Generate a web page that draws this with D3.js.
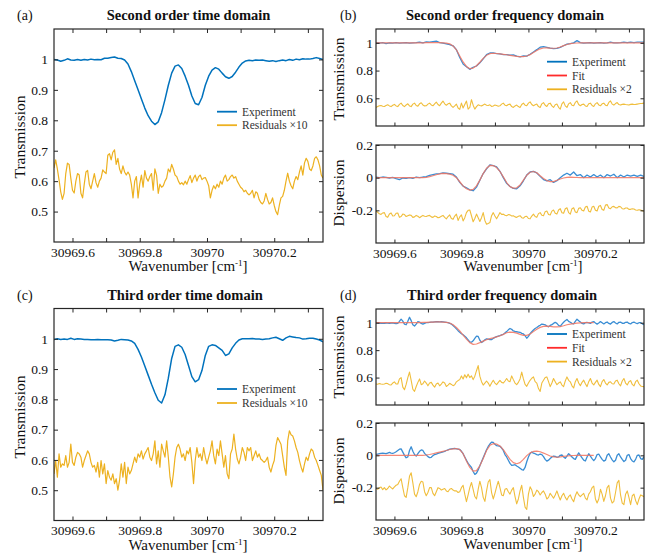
<!DOCTYPE html>
<html>
<head>
<meta charset="utf-8">
<script src="https://cdn.jsdelivr.net/npm/d3@7"></script>
<style>
body { margin: 0; background: #fff; }
text { font-family: "Liberation Serif", "Times New Roman", serif; }
</style>
</head>
<body>
<svg id="fig" width="658" height="559"></svg>
<script>
// wavenumber grid: every series starts at X0, sampled at a fixed step
const X0 = 30969.545, X1 = 30970.345;
const STEP = 0.01, FINE = 0.005;

const xTicks = [30969.6, 30969.7, 30969.8, 30969.9, 30970, 30970.1, 30970.2, 30970.3];
const xTickLabels = [30969.6, 30969.8, 30970, 30970.2];
const timeYTicks = [0.5, 0.6, 0.7, 0.8, 0.9, 1];
const transYTicks = [0.6, 0.8, 1];
const dispYTicks = [-0.2, 0, 0.2];

// (a) second order, time domain
const aExp = [
1.000,0.998,0.994,0.997,1.002,0.998,0.997,1.000,0.997,1.000,
0.998,1.001,0.999,1.000,0.999,1.004,1.004,1.006,1.008,1.004,
1.003,0.998,0.985,0.960,0.930,0.900,0.870,0.840,0.815,0.797,
0.786,0.795,0.825,0.868,0.915,0.955,0.978,0.982,0.970,0.945,
0.915,0.880,0.855,0.851,0.875,0.915,0.945,0.965,0.973,0.968,
0.955,0.943,0.938,0.944,0.958,0.975,0.988,0.995,0.997,0.996,
0.998,0.997,0.998,0.996,0.994,0.996,0.993,0.996,0.998,0.996,
1.000,0.997,1.001,0.999,1.002,1.001,1.001,1.003,1.006,1.003,
1.000];
const aRes = [
0.643,0.670,0.640,0.604,0.565,0.540,0.560,0.625,0.659,0.655,
0.610,0.570,0.561,0.600,0.625,0.620,0.560,0.545,0.590,0.630,
0.635,0.590,0.575,0.600,0.625,0.595,0.580,0.600,0.610,0.637,
0.630,0.625,0.685,0.690,0.670,0.695,0.703,0.655,0.675,0.640,
0.625,0.650,0.630,0.620,0.630,0.620,0.590,0.545,0.600,0.615,
0.545,0.590,0.620,0.580,0.635,0.610,0.600,0.615,0.625,0.570,
0.640,0.620,0.560,0.590,0.580,0.585,0.600,0.610,0.640,0.630,
0.655,0.640,0.620,0.615,0.600,0.590,0.595,0.588,0.600,0.590,
0.605,0.618,0.595,0.610,0.620,0.600,0.615,0.620,0.605,0.610,
0.612,0.600,0.585,0.545,0.570,0.585,0.575,0.590,0.580,0.600,
0.590,0.610,0.620,0.600,0.605,0.615,0.620,0.610,0.615,0.600,
0.590,0.580,0.575,0.565,0.570,0.560,0.555,0.560,0.570,0.545,
0.565,0.560,0.540,0.530,0.525,0.535,0.560,0.540,0.525,0.530,
0.545,0.520,0.500,0.490,0.520,0.545,0.550,0.570,0.600,0.626,
0.600,0.585,0.575,0.600,0.615,0.605,0.630,0.650,0.620,0.660,
0.675,0.665,0.640,0.635,0.650,0.675,0.680,0.670,0.650,0.620,
0.610];

// (c) third order, time domain
const cExp = [
0.998,1.000,0.998,0.999,0.998,1.002,0.998,1.000,0.999,0.998,
0.998,0.997,0.997,0.998,0.997,0.997,0.997,0.996,0.993,0.995,
0.998,0.997,0.996,0.993,0.985,0.965,0.940,0.910,0.880,0.850,
0.822,0.797,0.788,0.815,0.870,0.935,0.975,0.980,0.972,0.948,
0.912,0.875,0.858,0.865,0.895,0.945,0.975,0.980,0.978,0.970,
0.962,0.945,0.950,0.970,0.985,0.996,1.000,1.000,1.000,1.001,
0.999,0.999,0.998,0.999,1.000,1.003,1.005,1.000,0.995,1.003,
1.008,1.006,1.004,1.003,0.999,1.000,1.002,1.002,0.999,0.996,
0.990];
const cRes = [
0.554,0.598,0.543,0.620,0.576,0.587,0.582,0.614,0.576,0.592,
0.652,0.592,0.582,0.609,0.625,0.620,0.609,0.576,0.598,0.614,
0.630,0.620,0.592,0.576,0.582,0.560,0.592,0.543,0.598,0.554,
0.587,0.522,0.565,0.543,0.533,0.554,0.522,0.538,0.500,0.533,
0.587,0.543,0.592,0.522,0.576,0.554,0.565,0.587,0.609,0.592,
0.620,0.609,0.630,0.603,0.620,0.630,0.641,0.609,0.598,0.620,
0.663,0.587,0.630,0.576,0.652,0.630,0.609,0.663,0.609,0.543,
0.511,0.554,0.609,0.641,0.652,0.636,0.609,0.620,0.598,0.630,
0.620,0.641,0.592,0.522,0.598,0.641,0.609,0.620,0.598,0.641,
0.609,0.587,0.609,0.630,0.663,0.614,0.587,0.636,0.614,0.663,
0.620,0.576,0.614,0.554,0.538,0.620,0.636,0.685,0.636,0.603,
0.587,0.609,0.641,0.625,0.598,0.641,0.630,0.641,0.598,0.614,
0.630,0.609,0.620,0.603,0.598,0.592,0.598,0.609,0.576,0.560,
0.582,0.598,0.647,0.674,0.663,0.652,0.614,0.576,0.549,0.663,
0.696,0.683,0.679,0.663,0.641,0.625,0.598,0.576,0.560,0.587,
0.609,0.598,0.620,0.636,0.630,0.609,0.598,0.582,0.565,0.549,
0.500];

// (b) second order, frequency domain
const bTransExp = [
1.000,0.998,1.002,0.995,1.000,0.998,1.002,0.998,1.000,1.002,
0.998,1.000,1.002,1.005,1.000,1.007,1.005,1.009,1.012,1.002,
0.998,0.993,0.988,0.979,0.951,0.894,0.847,0.828,0.809,0.824,
0.833,0.856,0.885,0.915,0.927,0.927,0.922,0.920,0.915,0.915,
0.911,0.913,0.904,0.899,0.906,0.904,0.918,0.934,0.951,0.969,
0.972,0.967,0.962,0.958,0.960,0.967,0.979,0.991,0.995,1.000,
1.016,1.002,0.998,1.000,1.002,0.998,1.000,1.002,0.998,1.000,
1.005,1.000,1.000,1.002,1.005,1.002,1.005,1.002,1.005,1.005,
1.005];
const bTransFit = [
1.000,1.000,1.000,1.000,1.000,1.000,1.000,1.000,1.000,1.000,
1.000,1.000,1.000,1.000,1.000,1.001,1.001,1.002,1.002,1.001,
1.000,0.998,0.993,0.978,0.950,0.905,0.862,0.830,0.814,0.818,
0.835,0.860,0.888,0.910,0.922,0.925,0.923,0.920,0.917,0.914,
0.910,0.906,0.902,0.900,0.901,0.905,0.915,0.930,0.945,0.957,
0.963,0.964,0.962,0.961,0.963,0.970,0.980,0.988,0.994,0.997,
0.999,1.000,1.000,1.000,1.000,1.000,1.000,1.000,1.000,1.000,
1.000,1.000,1.000,1.000,1.000,1.000,1.000,1.000,1.000,1.000,
1.000];
const bTransRes = [
0.534,0.540,0.546,0.548,0.543,0.541,0.548,0.553,0.545,0.540,
0.550,0.556,0.545,0.540,0.556,0.565,0.548,0.540,0.552,0.560,
0.545,0.540,0.558,0.565,0.548,0.543,0.560,0.568,0.552,0.545,
0.546,0.558,0.565,0.552,0.546,0.560,0.572,0.555,0.546,0.565,
0.580,0.560,0.550,0.560,0.565,0.545,0.534,0.545,0.558,0.530,
0.520,0.565,0.530,0.555,0.580,0.522,0.534,0.590,0.550,0.522,
0.540,0.553,0.548,0.545,0.552,0.558,0.550,0.548,0.553,0.541,
0.545,0.551,0.548,0.543,0.546,0.558,0.565,0.550,0.546,0.555,
0.558,0.540,0.534,0.545,0.551,0.540,0.534,0.555,0.565,0.550,
0.546,0.565,0.574,0.555,0.546,0.553,0.558,0.540,0.534,0.560,
0.569,0.550,0.541,0.560,0.565,0.545,0.534,0.553,0.558,0.535,
0.522,0.560,0.574,0.545,0.534,0.560,0.569,0.550,0.546,0.570,
0.581,0.555,0.546,0.555,0.558,0.545,0.541,0.560,0.565,0.548,
0.541,0.560,0.569,0.552,0.546,0.560,0.565,0.550,0.546,0.570,
0.581,0.558,0.551,0.562,0.569,0.555,0.551,0.556,0.558,0.555,
0.553,0.551,0.556,0.558,0.555,0.556,0.558,0.560,0.562,0.563,
0.565];
const bDispExp = [
0.004,0.000,0.004,0.002,-0.002,0.002,-0.006,-0.012,-0.002,-0.004,
0.000,-0.004,0.004,0.000,0.004,0.006,0.014,0.019,0.023,0.025,
0.029,0.027,0.025,0.021,0.004,-0.029,-0.052,-0.062,-0.074,-0.080,
-0.058,-0.016,0.025,0.054,0.078,0.074,0.066,0.039,0.000,-0.035,
-0.054,-0.066,-0.068,-0.050,-0.019,0.016,0.035,0.039,0.029,0.008,
-0.012,-0.019,-0.012,-0.029,-0.019,0.000,0.016,0.027,0.016,0.035,
0.012,0.019,0.000,0.016,0.004,0.019,0.004,0.016,0.000,0.019,
0.010,0.021,0.000,0.016,0.004,0.016,0.010,0.016,0.008,0.016,
0.008];
const bDispFit = [
0,0,0,0,0,0,0,0,0,0,
0,0,0,0,0,0.002,0.006,0.012,0.018,0.023,
0.026,0.025,0.022,0.015,0.000,-0.025,-0.050,-0.068,-0.076,-0.072,
-0.050,-0.015,0.025,0.058,0.075,0.074,0.062,0.038,0.005,-0.030,
-0.055,-0.064,-0.062,-0.045,-0.015,0.015,0.033,0.038,0.030,0.012,
-0.005,-0.018,-0.024,-0.024,-0.016,-0.008,-0.002,0.002,0.003,0.002,
0.001,0,0,0,0,0,0,0,0,0,
0,0,0,0,0,0,0,0,0,0,
0];
const bDispRes = [
-0.204,-0.212,-0.221,-0.225,-0.216,-0.214,-0.238,-0.243,-0.222,-0.216,
-0.235,-0.233,-0.218,-0.216,-0.243,-0.238,-0.223,-0.226,-0.238,-0.233,
-0.228,-0.231,-0.243,-0.240,-0.231,-0.236,-0.245,-0.238,-0.231,-0.236,
-0.238,-0.233,-0.231,-0.240,-0.243,-0.235,-0.238,-0.245,-0.243,-0.236,
-0.231,-0.243,-0.252,-0.238,-0.228,-0.250,-0.255,-0.235,-0.223,-0.262,
-0.240,-0.228,-0.265,-0.245,-0.214,-0.200,-0.198,-0.233,-0.270,-0.250,
-0.223,-0.245,-0.268,-0.245,-0.214,-0.262,-0.285,-0.280,-0.275,-0.233,
-0.214,-0.235,-0.252,-0.233,-0.214,-0.225,-0.223,-0.230,-0.233,-0.226,
-0.228,-0.235,-0.233,-0.240,-0.243,-0.236,-0.233,-0.245,-0.248,-0.238,
-0.236,-0.250,-0.252,-0.235,-0.223,-0.238,-0.243,-0.220,-0.214,-0.230,
-0.233,-0.208,-0.204,-0.225,-0.228,-0.205,-0.198,-0.218,-0.223,-0.198,
-0.190,-0.215,-0.218,-0.190,-0.184,-0.214,-0.223,-0.190,-0.184,-0.210,
-0.214,-0.188,-0.184,-0.200,-0.204,-0.180,-0.175,-0.205,-0.210,-0.180,
-0.175,-0.200,-0.204,-0.175,-0.170,-0.195,-0.200,-0.168,-0.165,-0.185,
-0.190,-0.178,-0.176,-0.184,-0.185,-0.176,-0.178,-0.190,-0.192,-0.186,
-0.186,-0.194,-0.194,-0.190,-0.192,-0.198,-0.200,-0.196,-0.198,-0.202,
-0.206];

// (d) third order, frequency domain (fit stops at 30970.195)
const dTransExp = [
1.000,0.999,0.998,0.996,0.995,0.996,0.998,0.997,0.996,0.998,
0.999,0.996,0.993,0.995,1.010,1.026,1.012,0.990,0.985,1.010,
1.040,1.015,0.985,0.976,0.990,1.008,1.005,0.995,0.990,0.995,
1.000,1.000,1.002,1.005,1.004,1.006,1.008,1.007,1.006,1.008,
1.006,1.004,1.002,1.000,0.996,0.990,0.980,0.968,0.955,0.942,
0.930,0.920,0.912,0.902,0.890,0.875,0.860,0.858,0.868,0.885,
0.902,0.900,0.872,0.856,0.864,0.876,0.882,0.880,0.877,0.876,
0.886,0.893,0.899,0.903,0.906,0.911,0.915,0.926,0.935,0.948,
0.958,0.952,0.940,0.936,0.934,0.932,0.930,0.922,0.918,0.905,
0.887,0.900,0.920,0.934,0.947,0.958,0.965,0.975,0.981,0.990,
0.988,0.985,0.976,0.970,0.980,0.986,0.995,1.003,0.995,0.980,
0.974,0.990,1.003,1.015,1.024,1.010,1.003,0.995,0.991,1.010,
1.026,1.015,1.005,0.995,0.991,1.000,1.003,0.998,0.995,1.005,
1.008,0.998,0.990,0.998,1.008,1.000,0.991,1.000,1.005,0.995,
0.990,1.002,1.008,0.998,0.991,1.003,1.005,0.996,0.995,1.003,
1.005,0.995,0.991,1.001,1.005,0.998,0.993,1.000,1.000,0.992,
0.986];
const dTransFit = [
1.000,1.000,1.000,1.000,1.000,1.000,1.000,1.000,1.000,1.000,
1.000,1.000,1.000,1.001,1.002,1.003,1.004,1.005,1.006,1.006,
1.005,1.003,0.998,0.985,0.965,0.940,0.910,0.880,0.855,0.842,
0.845,0.855,0.866,0.876,0.884,0.890,0.897,0.905,0.915,0.927,
0.932,0.930,0.924,0.915,0.908,0.908,0.918,0.935,0.953,0.966,
0.973,0.975,0.973,0.970,0.969,0.972,0.978,0.985,0.990,0.994,
0.997,0.999,1.000,1.000,1.000,1.000];
const dTransRes = [
0.553,0.551,0.556,0.553,0.551,0.553,0.558,0.556,0.548,0.546,
0.560,0.569,0.553,0.553,0.590,0.600,0.530,0.511,0.550,0.600,
0.640,0.580,0.515,0.499,0.535,0.565,0.590,0.548,0.555,0.575,
0.560,0.540,0.560,0.565,0.545,0.530,0.553,0.560,0.540,0.553,
0.569,0.560,0.535,0.545,0.558,0.550,0.541,0.548,0.569,0.578,
0.585,0.612,0.590,0.620,0.598,0.625,0.600,0.612,0.585,0.610,
0.650,0.687,0.610,0.570,0.545,0.560,0.575,0.560,0.536,0.560,
0.580,0.560,0.548,0.565,0.580,0.565,0.560,0.575,0.593,0.575,
0.570,0.612,0.585,0.560,0.548,0.565,0.590,0.640,0.590,0.550,
0.536,0.560,0.580,0.595,0.605,0.570,0.560,0.520,0.499,0.560,
0.580,0.600,0.605,0.570,0.534,0.560,0.593,0.570,0.548,0.560,
0.569,0.545,0.534,0.575,0.605,0.580,0.569,0.540,0.524,0.570,
0.593,0.560,0.541,0.565,0.581,0.555,0.534,0.570,0.593,0.560,
0.546,0.565,0.581,0.550,0.534,0.570,0.586,0.560,0.546,0.565,
0.569,0.555,0.553,0.575,0.581,0.555,0.539,0.575,0.593,0.560,
0.546,0.570,0.578,0.550,0.539,0.570,0.581,0.555,0.539,0.535,
0.534];
const dDispExp = [
0.005,0.008,0.010,0.012,0.014,0.012,0.010,0.014,0.018,0.014,
0.012,0.016,0.022,0.030,0.038,0.040,0.020,0.000,-0.015,-0.010,
0.030,0.053,0.025,0.005,-0.005,0.010,0.025,0.033,0.030,0.012,
0.002,-0.008,-0.014,-0.012,-0.002,0.005,0.008,0.012,0.015,0.018,
0.022,0.025,0.030,0.034,0.038,0.040,0.042,0.043,0.040,0.038,
0.036,0.025,0.010,-0.010,-0.030,-0.050,-0.062,-0.075,-0.100,-0.118,
-0.110,-0.090,-0.065,-0.040,-0.015,0.010,0.035,0.055,0.070,0.082,
0.080,0.068,0.060,0.058,0.056,0.045,0.030,0.005,-0.010,-0.030,
-0.050,-0.062,-0.060,-0.058,-0.066,-0.072,-0.080,-0.088,-0.092,-0.075,
-0.040,-0.010,0.012,0.020,0.014,0.010,0.004,0.002,0.008,0.004,
-0.008,-0.025,-0.036,-0.030,-0.020,-0.010,-0.005,-0.006,-0.012,-0.010,
0.000,0.002,-0.010,-0.018,-0.005,0.010,0.000,-0.010,-0.020,-0.025,
-0.005,0.015,0.000,-0.015,-0.030,-0.035,-0.010,0.010,-0.005,-0.020,
-0.033,-0.020,0.005,0.008,-0.010,-0.025,-0.036,-0.030,0.000,0.010,
-0.010,-0.028,-0.040,-0.030,0.000,0.010,-0.010,-0.025,-0.038,-0.030,
0.000,0.005,-0.020,-0.035,-0.040,-0.025,0.000,0.002,-0.020,-0.025,
-0.008];
const dDispFit = [
0,0,0,0,0,0,0,0,0,0,
0,0,0,0,0,0.002,0.005,0.010,0.015,0.020,
0.025,0.030,0.036,0.040,0.042,0.035,0.010,-0.035,-0.075,-0.098,
-0.095,-0.065,-0.020,0.030,0.062,0.072,0.070,0.058,0.035,0.005,
-0.025,-0.045,-0.052,-0.045,-0.025,-0.002,0.015,0.024,0.026,0.022,
0.014,0.005,-0.004,-0.010,-0.012,-0.010,-0.007,-0.004,-0.002,-0.001,
0,0,0,0,0,0];
const dDispRes = [
-0.204,-0.210,-0.200,-0.196,-0.212,-0.200,-0.214,-0.205,-0.190,-0.200,
-0.208,-0.195,-0.185,-0.180,-0.160,-0.145,-0.200,-0.250,-0.260,-0.200,
-0.130,-0.108,-0.170,-0.240,-0.256,-0.225,-0.180,-0.160,-0.165,-0.225,
-0.250,-0.230,-0.200,-0.200,-0.235,-0.250,-0.225,-0.200,-0.205,-0.215,
-0.210,-0.205,-0.220,-0.225,-0.210,-0.205,-0.215,-0.220,-0.220,-0.230,
-0.225,-0.200,-0.185,-0.240,-0.287,-0.245,-0.200,-0.168,-0.210,-0.255,
-0.270,-0.210,-0.160,-0.200,-0.260,-0.285,-0.220,-0.165,-0.150,-0.230,
-0.270,-0.235,-0.195,-0.160,-0.200,-0.245,-0.250,-0.210,-0.205,-0.225,
-0.240,-0.215,-0.200,-0.255,-0.300,-0.270,-0.220,-0.185,-0.260,-0.320,
-0.335,-0.240,-0.195,-0.215,-0.255,-0.240,-0.215,-0.225,-0.245,-0.230,
-0.220,-0.240,-0.270,-0.260,-0.235,-0.250,-0.265,-0.245,-0.220,-0.250,
-0.276,-0.250,-0.235,-0.260,-0.276,-0.255,-0.245,-0.270,-0.287,-0.250,
-0.225,-0.245,-0.256,-0.245,-0.235,-0.265,-0.276,-0.240,-0.225,-0.200,
-0.190,-0.270,-0.295,-0.270,-0.210,-0.240,-0.285,-0.250,-0.200,-0.185,
-0.265,-0.295,-0.285,-0.230,-0.170,-0.155,-0.245,-0.295,-0.305,-0.240,
-0.220,-0.260,-0.305,-0.250,-0.240,-0.280,-0.305,-0.270,-0.245,-0.250,
-0.256];

const BLUE = "#0072BD", RED = "#FF2B2B", YEL = "#EDB120", INK = "#262626";
// thin curves in the frequency panels look lighter in the original
const BLUE_LT = "#3B8ED4", FIT_LT = "#F2735F", YEL_LT = "#F0BE3C";

const svg = d3.select("#fig");
let clipId = 0;

function makeAxes(box, yDomain, yTicks, opts) {
  const x = d3.scaleLinear().domain([X0, X1]).range([box.l, box.r]);
  const y = d3.scaleLinear().domain(yDomain).range([box.b, box.t]);
  const g = svg.append("g");
  const id = "clip" + (clipId++);
  g.append("clipPath").attr("id", id).append("rect")
    .attr("x", box.l).attr("y", box.t)
    .attr("width", box.r - box.l).attr("height", box.b - box.t);
  const plot = g.append("g").attr("clip-path", "url(#" + id + ")");

  const tl = opts.tick || 4;
  const fmt = d => String(+d.toFixed(1));
  const xfmt = d => xTickLabels.some(v => Math.abs(v - d) < 1e-6) ? fmt(d) : "";

  const style = sel => {
    sel.select(".domain").remove();
    sel.selectAll("line").attr("stroke", INK);
    sel.selectAll("text").attr("font-family", "Liberation Serif, Times New Roman, serif")
      .attr("font-size", 13.5).attr("fill", "#111");
  };

  g.append("g").attr("transform", `translate(0,${box.b})`)
    .call(d3.axisBottom(x).tickValues(xTicks).tickSize(-tl).tickPadding(5)
      .tickFormat(opts.xLabels ? xfmt : () => ""))
    .call(style);
  g.append("g").attr("transform", `translate(0,${box.t})`)
    .call(d3.axisTop(x).tickValues(xTicks).tickSize(-tl).tickFormat(() => ""))
    .call(style);
  g.append("g").attr("transform", `translate(${box.l},0)`)
    .call(d3.axisLeft(y).tickValues(yTicks).tickSize(-tl).tickPadding(opts.ypad).tickFormat(fmt))
    .call(style);
  g.append("g").attr("transform", `translate(${box.r},0)`)
    .call(d3.axisRight(y).tickValues(yTicks).tickSize(-tl).tickFormat(() => ""))
    .call(style);

  g.append("rect").attr("x", box.l).attr("y", box.t)
    .attr("width", box.r - box.l).attr("height", box.b - box.t)
    .attr("fill", "none").attr("stroke", INK).attr("stroke-width", 1.2);

  g.append("text")
    .attr("transform", `translate(${opts.ylabX},${opts.ylabY}) rotate(-90)`)
    .attr("text-anchor", "middle").attr("font-size", 15.5).attr("fill", "#111")
    .text(opts.ylabel);

  return { x, y, plot };
}

function drawSeries(ax, values, step, color, width, opacity) {
  const pts = values.map((v, i) => [X0 + i * step, v]);
  ax.plot.append("path").datum(pts)
    .attr("fill", "none").attr("stroke", color)
    .attr("stroke-width", width).attr("stroke-opacity", opacity)
    .attr("stroke-linejoin", "round")
    .attr("d", d3.line().x(d => ax.x(d[0])).y(d => ax.y(d[1])));
}

function legend(x, y0, dy, items) {
  items.forEach((it, i) => {
    const y = y0 + i * dy;
    svg.append("line").attr("x1", x).attr("x2", x + 20).attr("y1", y).attr("y2", y)
      .attr("stroke", it.color).attr("stroke-width", 1.8);
    svg.append("text").attr("x", x + 25).attr("y", y + 4)
      .attr("font-size", 11.5).attr("fill", "#333").text(it.label);
  });
}

function xLabel(cx, by) {
  const t = svg.append("text").attr("x", cx).attr("y", by)
    .attr("text-anchor", "middle").attr("font-size", 15).attr("fill", "#111");
  t.append("tspan").text("Wavenumber [cm");
  t.append("tspan").attr("dy", -5).attr("font-size", 9).text("-1");
  t.append("tspan").attr("dy", 5).text("]");
}

function title(cx, by, txt, letter, lx) {
  svg.append("text").attr("x", cx).attr("y", by).attr("text-anchor", "middle")
    .attr("font-size", 14.5).attr("font-weight", "bold").attr("fill", "#111").text(txt);
  svg.append("text").attr("x", lx).attr("y", by)
    .attr("font-size", 14).attr("fill", "#111").text(letter);
}

// ---- (a)
const axA = makeAxes({ l: 54, t: 29, r: 323, b: 242 }, [0.4, 1.1], timeYTicks,
  { xLabels: true, ypad: 6, ylabel: "Transmission", ylabX: 25, ylabY: 137 });
drawSeries(axA, aExp, STEP, BLUE, 1.5, 1);
drawSeries(axA, aRes, FINE, YEL, 1.2, 1);
legend(217, 111.7, 13.5, [{ label: "Experiment", color: BLUE }, { label: "Residuals \u00d710", color: YEL }]);
xLabel(188, 270.5);
title(188.5, 20, "Second order time domain", "(a)", 17);

// ---- (c)
const axC = makeAxes({ l: 54, t: 308.5, r: 323, b: 520.5 }, [0.4, 1.1], timeYTicks,
  { xLabels: true, ypad: 6, ylabel: "Transmission", ylabX: 25, ylabY: 417 });
drawSeries(axC, cExp, STEP, BLUE, 1.5, 1);
drawSeries(axC, cRes, FINE, YEL, 1.2, 1);
legend(217, 389, 14, [{ label: "Experiment", color: BLUE }, { label: "Residuals \u00d710", color: YEL }]);
xLabel(188, 549.5);
title(185, 300, "Third order time domain", "(c)", 17);

// ---- (b)
const axBT = makeAxes({ l: 376, t: 29, r: 644, b: 126 }, [0.4, 1.1], transYTicks,
  { xLabels: false, ypad: 3, tick: 3.5, ylabel: "Transmission", ylabX: 344, ylabY: 79 });
drawSeries(axBT, bTransExp, STEP, BLUE_LT, 1.3, 1);
drawSeries(axBT, bTransFit, STEP, FIT_LT, 1.2, 0.85);
drawSeries(axBT, bTransRes, FINE, YEL_LT, 1.1, 1);
const axBD = makeAxes({ l: 376, t: 145, r: 644, b: 243 }, [-0.4, 0.2], dispYTicks,
  { xLabels: true, ypad: 3, tick: 3.5, ylabel: "Dispersion", ylabX: 344, ylabY: 193 });
drawSeries(axBD, bDispExp, STEP, BLUE_LT, 1.3, 1);
drawSeries(axBD, bDispFit, STEP, FIT_LT, 1.2, 0.85);
drawSeries(axBD, bDispRes, FINE, YEL_LT, 1.1, 1);
legend(547, 61.7, 13.8, [{ label: "Experiment", color: BLUE }, { label: "Fit", color: RED },
  { label: "Residuals \u00d72", color: YEL }]);
xLabel(523, 271);
title(505, 20, "Second order frequency domain", "(b)", 340);

// ---- (d)
const axDT = makeAxes({ l: 376, t: 309, r: 644, b: 405 }, [0.4, 1.1], transYTicks,
  { xLabels: false, ypad: 3, tick: 3.5, ylabel: "Transmission", ylabX: 344, ylabY: 357 });
drawSeries(axDT, dTransExp, FINE, BLUE_LT, 1.3, 1);
drawSeries(axDT, dTransFit, STEP, FIT_LT, 1.2, 0.85);
drawSeries(axDT, dTransRes, FINE, YEL_LT, 1.1, 1);
const axDD = makeAxes({ l: 376, t: 423, r: 644, b: 520 }, [-0.4, 0.2], dispYTicks,
  { xLabels: true, ypad: 3, tick: 3.5, ylabel: "Dispersion", ylabX: 344, ylabY: 471 });
drawSeries(axDD, dDispExp, FINE, BLUE_LT, 1.3, 1);
drawSeries(axDD, dDispFit, STEP, FIT_LT, 1.2, 0.85);
drawSeries(axDD, dDispRes, FINE, YEL_LT, 1.1, 1);
legend(547, 334, 13.8, [{ label: "Experiment", color: BLUE }, { label: "Fit", color: RED },
  { label: "Residuals \u00d72", color: YEL }]);
xLabel(523, 548.5);
title(502, 300, "Third order frequency domain", "(d)", 340);
</script>
</body>
</html>
